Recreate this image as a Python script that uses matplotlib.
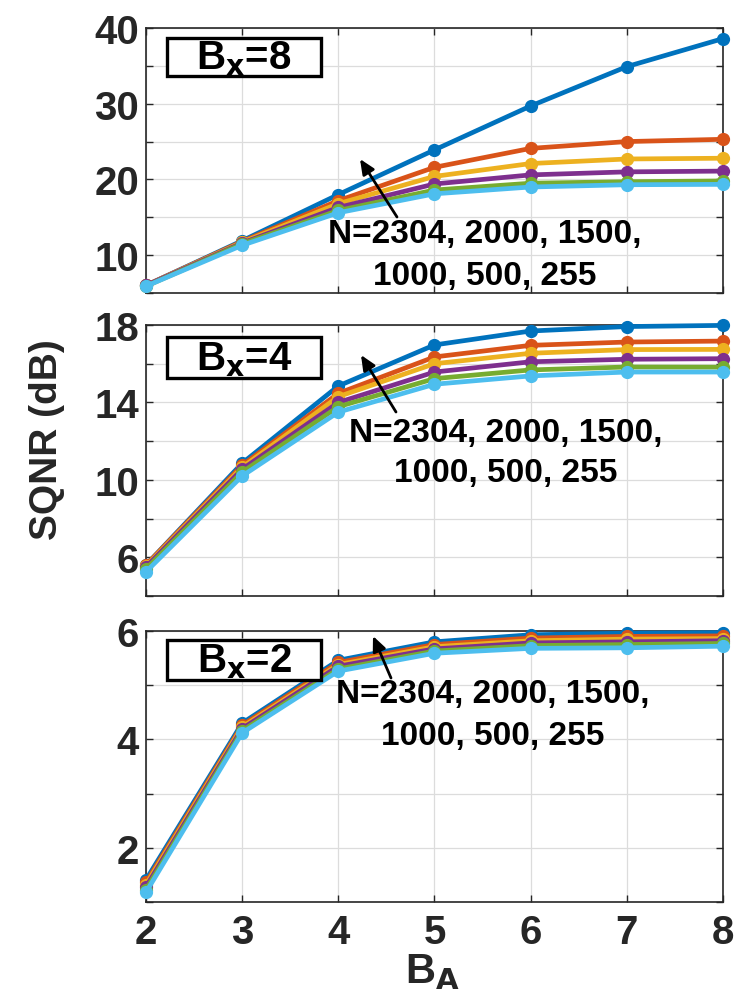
import numpy as np
import matplotlib
matplotlib.use("Agg")
import matplotlib.pyplot as plt
from matplotlib.patches import Rectangle, FancyArrowPatch

plt.rcParams["font.family"] = ["Liberation Sans Narrow", "Liberation Sans", "DejaVu Sans"]
plt.rcParams["font.weight"] = "bold"
plt.rcParams["mathtext.default"] = "bf"

# ── data
b_a = [2, 3, 4, 5, 6, 7, 8]
n_sizes = [2304, 2000, 1500, 1000, 500, 255]
colors = ["#0072BD", "#D95319", "#EDB120", "#7E2F8E", "#77AC30", "#4DBEEE"]

# B_x = 8
sqnr_bx8 = [
    [6.0, 11.9, 18.0, 23.9, 29.7, 34.9, 38.6],
    [6.0, 11.8, 17.2, 21.6, 24.1, 25.0, 25.3],
    [6.0, 11.7, 16.8, 20.4, 22.1, 22.7, 22.8],
    [6.0, 11.6, 16.3, 19.4, 20.6, 21.0, 21.1],
    [5.9, 11.5, 15.9, 18.6, 19.5, 19.7, 19.8],
    [5.9, 11.3, 15.6, 18.1, 19.0, 19.3, 19.35],
]
# B_x = 4
sqnr_bx4 = [
    [5.60, 10.86, 14.85, 16.97, 17.69, 17.92, 17.98],
    [5.60, 10.75, 14.47, 16.35, 16.95, 17.12, 17.17],
    [5.55, 10.65, 14.30, 16.00, 16.54, 16.73, 16.74],
    [5.50, 10.55, 14.00, 15.57, 16.10, 16.23, 16.26],
    [5.40, 10.40, 13.78, 15.23, 15.68, 15.83, 15.82],
    [5.25, 10.20, 13.50, 14.94, 15.37, 15.57, 15.57],
]
# B_x = 2
sqnr_bx2 = [
    [1.41, 4.30, 5.46, 5.80, 5.93, 5.96, 5.97],
    [1.36, 4.26, 5.42, 5.75, 5.87, 5.90, 5.91],
    [1.32, 4.23, 5.38, 5.71, 5.82, 5.85, 5.86],
    [1.28, 4.20, 5.35, 5.67, 5.78, 5.80, 5.82],
    [1.23, 4.16, 5.30, 5.63, 5.73, 5.75, 5.77],
    [1.18, 4.12, 5.26, 5.59, 5.68, 5.69, 5.72],
]

panels = [
    ("8", sqnr_bx8, (5, 40), np.arange(5, 41, 5), [10, 20, 30, 40]),
    ("4", sqnr_bx4, (4, 18), np.arange(4, 19, 2), [6, 10, 14, 18]),
    ("2", sqnr_bx2, (1, 6), np.arange(1, 7, 1), [2, 4, 6]),
]

W, H = 744, 995
fig = plt.figure(figsize=(W / 100, H / 100), dpi=100)


def fx(px):
    return px / W


def fy(py):
    return 1 - py / H


# axes boxes in pixels: (top, bottom)
rows = [(29, 294), (326, 597), (632, 903)]
left, right = 146, 723

# per panel: label box (top, bottom), text x centre, text line ys, arrow tail, arrow head
notes = [
    ((39, 77), 485, (235, 277), (397, 218), (360, 160)),
    ((338, 379), 506, (434, 474), (396, 413), (361, 356)),
    ((641, 681), 493, (695, 736), (391, 679), (373, 637)),
]

legend_lines = ["N=" + ", ".join(str(n) for n in n_sizes[:3]) + ",",
                ", ".join(str(n) for n in n_sizes[3:])]

for (bx, series, ylim, yt, ylab), (top, bot), (box, tx, tys, tail, head) in zip(panels, rows, notes):
    ax = fig.add_axes([fx(left), fy(bot), (right - left) / W, (bot - top) / H])
    for vals, c in zip(series, colors):
        ax.plot(b_a, vals, color=c, lw=3.4, marker="o", ms=8.5, clip_on=False, zorder=3)
    ax.set_xlim(2, 8)
    ax.set_ylim(*ylim)
    ax.set_xticks(b_a)
    ax.set_yticks(yt)
    ax.set_yticklabels([f"{v:g}" if v in ylab else "" for v in yt])
    ax.grid(True, color="#dcdcdc", lw=0.9)
    ax.set_axisbelow(True)
    ax.tick_params(direction="in", length=5, width=1, top=True, right=True,
                   labelsize=29, colors="#262626", pad=5)
    ax.tick_params(axis="x", pad=8)
    for sp in ax.spines.values():
        sp.set_color("#262626")
        sp.set_linewidth(1.2)
    if bx != "2":
        ax.set_xticklabels([])

    # B_x label box
    fig.add_artist(Rectangle((fx(167), fy(box[1])), (321 - 167) / W, (box[1] - box[0]) / H,
                             transform=fig.transFigure, fc="white", ec="black", lw=2.4,
                             zorder=5))
    fig.text(fx(244), fy((box[0] + box[1]) / 2 + 1), r"B$_\mathbf{x}$=" + bx,
             ha="center", va="center", fontsize=29, fontweight="bold", zorder=6)

    for line, ty in zip(legend_lines, tys):
        fig.text(fx(tx), fy(ty), line, ha="center", va="center",
                 fontsize=24, fontweight="bold", zorder=6)
    fig.add_artist(FancyArrowPatch(
        (fx(tail[0]), fy(tail[1])), (fx(head[0]), fy(head[1])),
        transform=fig.transFigure, arrowstyle="-|>,head_length=9,head_width=4",
        shrinkA=0, shrinkB=0, color="black", lw=2.0, zorder=6))

fig.text(fx(47), fy(440), "SQNR (dB)", rotation=90, ha="center", va="center",
         fontsize=28, fontweight="bold", color="#262626")
fig.text(fx(432), fy(972), r"B$_\mathbf{A}$", ha="center", va="center",
         fontsize=30, fontweight="bold", color="#262626")

fig.savefig("out.png", dpi=100)
